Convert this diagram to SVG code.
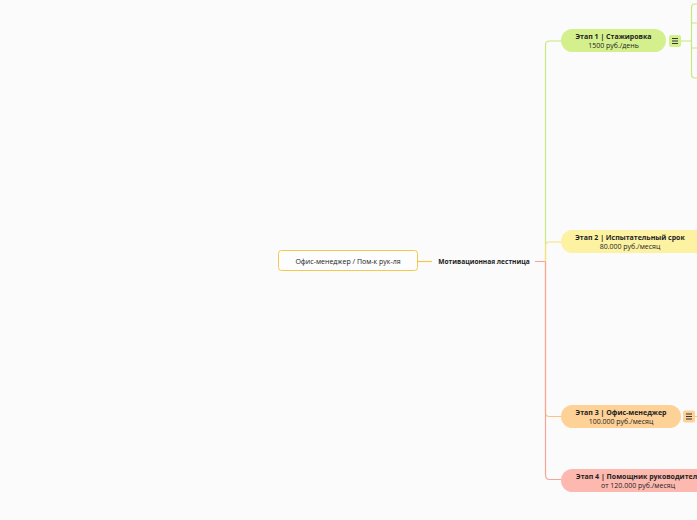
<svg xmlns="http://www.w3.org/2000/svg" width="697" height="520" viewBox="0 0 697 520">
<style>
text{font-family:"Open Sans","Noto Sans","Liberation Sans",sans-serif;fill:#222;text-anchor:middle}
.t{font-size:7px;font-weight:bold}
.s{font-size:7px}
.c{fill:none;stroke-width:1.2}
</style>
<rect width="697" height="520" fill="#fbfbfb"/>
<g id="connectors">
<path class="c" stroke="#f2c94c" d="M418 261.5H432"/>
<path class="c" stroke="#c9e77f" d="M535 261.5H545.5V45Q545.5 41 549.5 41H561"/>
<path class="c" stroke="#fcc27e" d="M545.5 261.5V413Q545.5 416.5 549.5 416.5H561"/>
<path class="c" stroke="#f4a597" d="M535 261.5H545.5V475Q545.5 479.5 549.5 479.5H561"/>
<path class="c" stroke="#f5e27a" d="M545.5 261.5V246Q545.5 242 549.5 242H561"/>
<path class="c" stroke="#c9e77f" d="M681 41H691.5M697 4H695Q691.5 4 691.5 8V74Q691.5 78 695 78H697M691.5 23H697M691.5 48H697"/>
<path class="c" stroke="#fcc27e" d="M695 416.5H697"/>
</g>
<g id="root">
<rect x="278.5" y="250.5" width="139" height="20" rx="3" fill="#fdfdfd" stroke="#f2c94c"/>
<text class="s" x="348" y="264">Офис-менеджер / Пом-к рук-ля</text>
</g>
<g id="main">
<text class="t" x="484" y="264" style="font-size:6.6px">Мотивационная лестница</text>
</g>
<g id="stage1">
<rect x="561" y="29" width="105" height="23" rx="11.5" fill="#d4f08c"/>
<text class="t" x="613.5" y="39">Этап 1 | Стажировка</text>
<text class="s" x="613.5" y="48">1500 руб./день</text>
<rect x="669" y="35" width="12" height="12" rx="2" fill="#d4f08c"/>
<path d="M672 38.5h6M672 41h6M672 43.5h6" stroke="#333" stroke-width="1"/>
</g>
<g id="stage2">
<rect x="561" y="230" width="150" height="23" rx="11.5" fill="#fdf1a2"/>
<text class="t" x="630" y="240">Этап 2 | Испытательный срок</text>
<text class="s" x="630" y="249">80.000 руб./месяц</text>
</g>
<g id="stage3">
<rect x="561" y="405" width="120" height="23" rx="11.5" fill="#fed197"/>
<text class="t" x="621" y="415">Этап 3 | Офис-менеджер</text>
<text class="s" x="621" y="424">100.000 руб./месяц</text>
<rect x="683" y="410.5" width="12" height="12" rx="2" fill="#fed197"/>
<path d="M686 414h6M686 416.5h6M686 419h6" stroke="#333" stroke-width="1"/>
</g>
<g id="stage4">
<rect x="561" y="469" width="170" height="23" rx="11.5" fill="#fdb9af"/>
<text class="t" x="576" y="479" style="text-anchor:start">Этап 4 | Помощник руководителя</text>
<text class="s" x="638" y="488">от 120.000 руб./месяц</text>
</g>
</svg>
